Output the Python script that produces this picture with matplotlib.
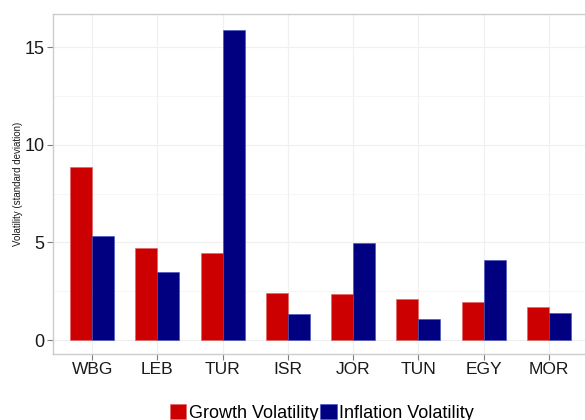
import matplotlib
matplotlib.use("Agg")
import matplotlib.pyplot as plt
import numpy as np
from matplotlib.patches import Patch

categories = ["WBG", "LEB", "TUR", "ISR", "JOR", "TUN", "EGY", "MOR"]
growth_vol = [8.89, 4.73, 4.46, 2.39, 2.34, 2.12, 1.93, 1.68]
inflation_vol = [5.33, 3.50, 15.91, 1.35, 4.96, 1.06, 4.12, 1.37]
series_names = ["Growth Volatility", "Inflation Volatility"]
colors = ["#CC0000", "#000080"]

plt.rcParams['font.family'] = ['Liberation Sans', 'DejaVu Sans']

fig = plt.figure(figsize=(5.85, 4.2), dpi=100)
ax = fig.add_axes([53/585, (420-354)/420, (588-53)/585, (354-14)/420])

x = np.arange(len(categories))
w = 0.336
ax.bar(x - w/2, growth_vol, width=w, color=colors[0], edgecolor="#e06060", linewidth=0.4, zorder=3)
ax.bar(x + w/2, inflation_vol, width=w, color=colors[1], edgecolor="#4050c0", linewidth=0.4, zorder=3)

ymax = max(max(growth_vol), max(inflation_vol))
ax.set_ylim(-0.045*ymax, 1.05*ymax)
ax.set_xlim(-0.6, len(categories) - 0.4)
ax.set_xticks(x)
ax.set_xticklabels(categories, fontsize=12.5, color="#1a1a1a")
ax.set_yticks([0, 5, 10, 15])
ax.set_yticklabels(["0", "5", "10", "15"], fontsize=13, color="#1a1a1a")
ax.set_yticks([2.5, 7.5, 12.5], minor=True)
ax.tick_params(axis='y', which='minor', length=0)
ax.tick_params(axis='both', which='major', length=4, width=0.8, color="#7f7f7f", pad=2)

ax.grid(True, which='major', color="#f0f0f0", linewidth=0.9, zorder=0)
ax.grid(True, which='minor', axis='y', color="#f5f5f5", linewidth=0.6, zorder=0)
ax.set_axisbelow(True)
for s in ax.spines.values():
    s.set_color("#cccccc")
    s.set_linewidth(1.0)

ax.set_ylabel("Volatility (standard deviation)", fontsize=7, color="#1a1a1a", labelpad=1)

handles = [Patch(facecolor=colors[0], edgecolor="#e06060", linewidth=0.4),
           Patch(facecolor=colors[1], edgecolor="#4050c0", linewidth=0.4)]
fig.legend(handles, series_names, loc='upper center', bbox_to_anchor=(322/585, 16/420),
           ncol=2, frameon=False, fontsize=13, handlelength=0.9, handleheight=0.9,
           handletextpad=0.15, columnspacing=0.1, borderaxespad=0, borderpad=0)

fig.savefig("out.png", dpi=100)
